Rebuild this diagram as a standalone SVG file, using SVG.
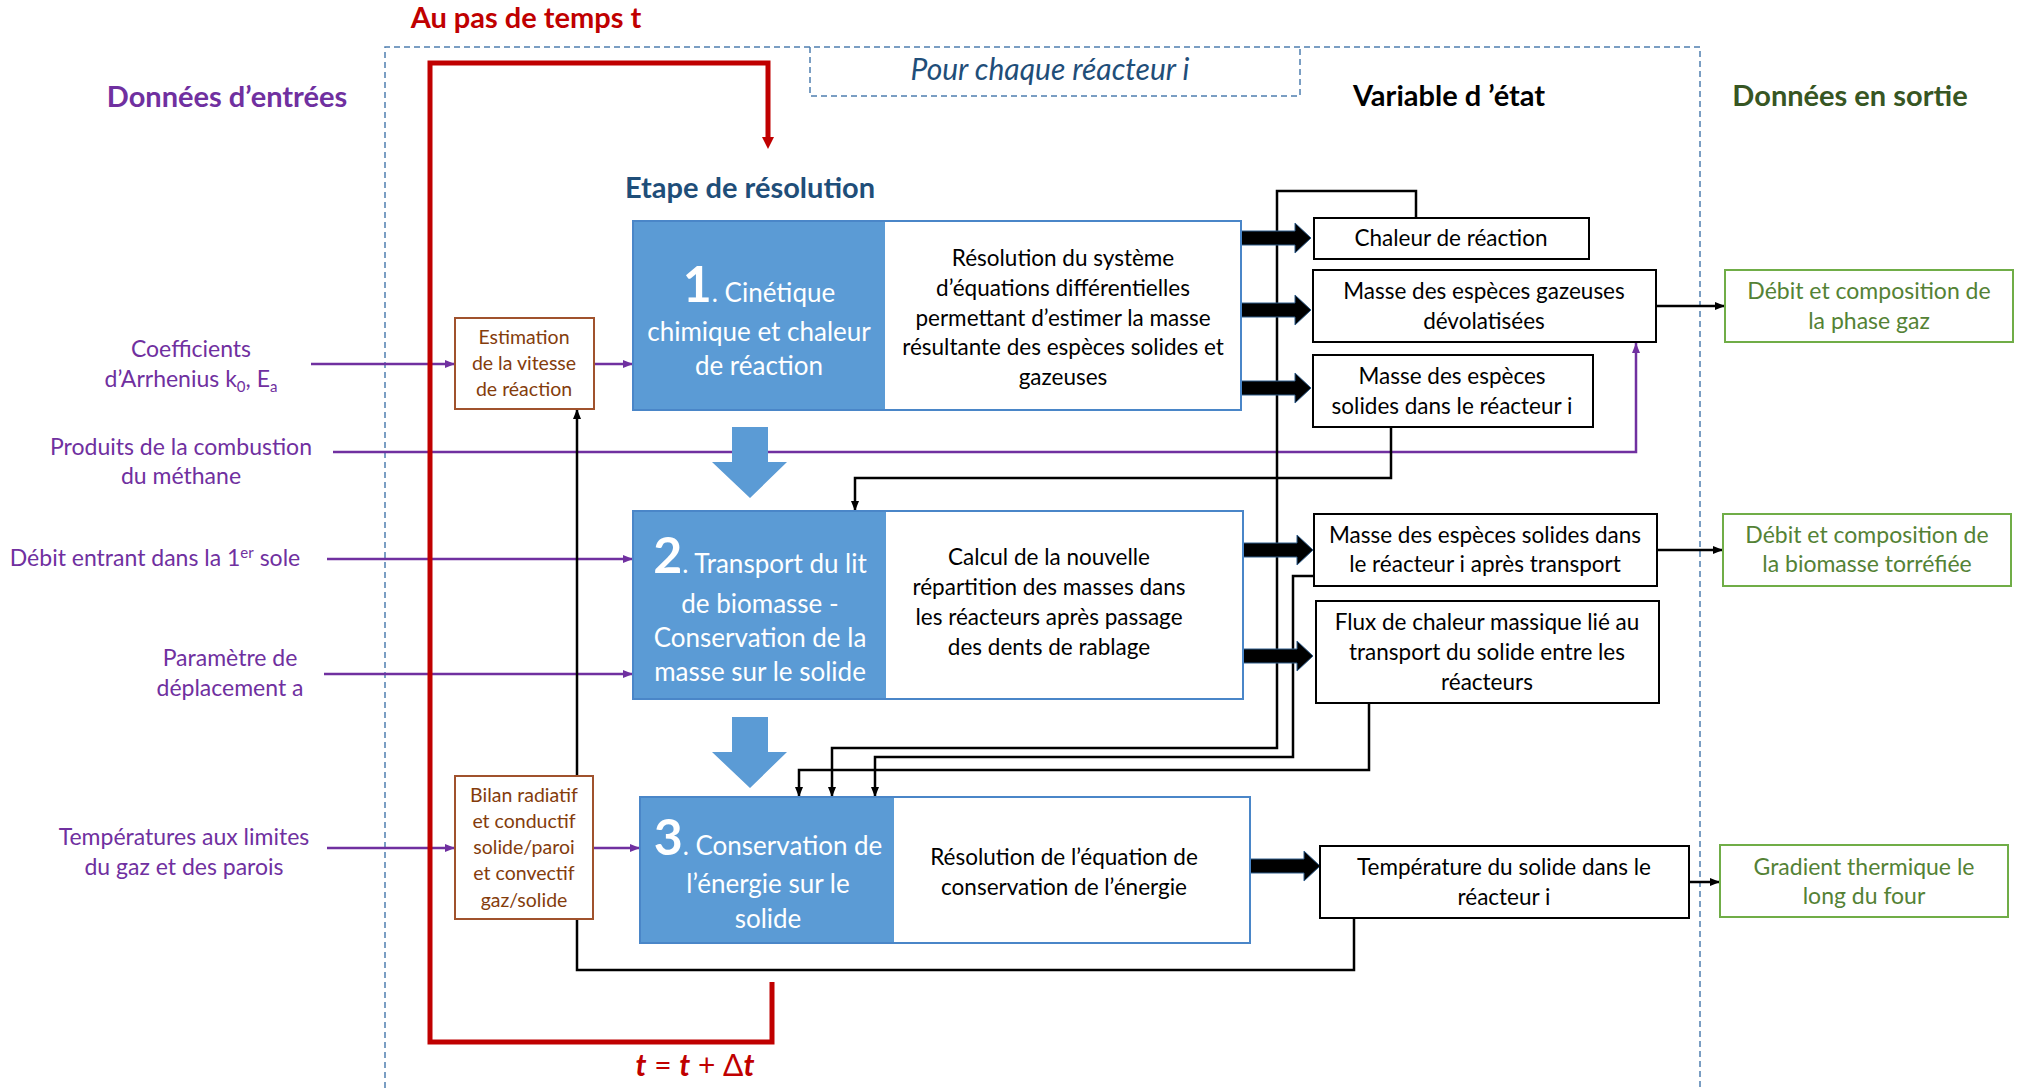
<svg xmlns="http://www.w3.org/2000/svg" width="2019" height="1088" viewBox="0 0 2019 1088">
<defs>
<style>
text { font-family: Lato, "Open Sans", "Liberation Sans", sans-serif; }
.lbl { font-size:23px; fill:#7030A0; text-anchor:middle; }
.st { font-size:22.5px; fill:#000; text-anchor:middle; }
.out { font-size:23px; fill:#548235; text-anchor:middle; }
.bl { font-size:26px; fill:#fff; text-anchor:middle; }
.big { font-size:50px; font-weight:bold; }
.br { font-size:19.5px; fill:#843C0C; text-anchor:middle; }
.hd { font-size:29px; font-weight:bold; text-anchor:middle; }
.sbox { fill:#fff; stroke:#000; stroke-width:2; }
.gbox { fill:#fff; stroke:#70AD47; stroke-width:2; }
.bbox { fill:#fff; stroke:#A0522D; stroke-width:2; }
.step { fill:#fff; stroke:#4A86C8; stroke-width:2; }
.stepl { fill:#5B9BD5; }
.ln { fill:none; stroke:#000; stroke-width:2.5; }
.pl { fill:none; stroke:#7030A0; stroke-width:2.5; }
.dash { fill:none; stroke:#4F7FB0; stroke-width:1.5; stroke-dasharray:6 4; }
.blk { fill:#000; stroke:#2E5C8A; stroke-width:1; }
.barr { fill:#5B9BD5; }
</style>
<marker id="ab" markerUnits="userSpaceOnUse" markerWidth="10" markerHeight="8" refX="10" refY="4" orient="auto">
<path d="M0,0 L10,4 L0,8 Z" fill="#000"/>
</marker>
<marker id="ap" markerUnits="userSpaceOnUse" markerWidth="10" markerHeight="8" refX="10" refY="4" orient="auto">
<path d="M0,0 L10,4 L0,8 Z" fill="#7030A0"/>
</marker>
<marker id="ar" markerUnits="userSpaceOnUse" markerWidth="12" markerHeight="12" refX="0" refY="6" orient="auto">
<path d="M0,0 L12,6 L0,12 Z" fill="#C00000"/>
</marker>
<path id="ba" class="blk" d="M0,-7 H54 V-15 L70,0 L54,15 V7 H0 Z"/>
</defs>

<g id="frames">
<path class="dash" d="M385,1088 V47 H1700 V1088"/>
<path class="dash" d="M810,47 V96 H1300 V47"/>
</g>

<g id="headers">
<text class="hd" x="526" y="28" fill="#C00000">Au pas de temps t</text>
<text class="hd" x="227" y="107" fill="#7030A0">Données d’entrées</text>
<text x="1050" y="80" font-size="30" font-style="italic" fill="#1F4E79" text-anchor="middle">Pour chaque réacteur i</text>
<text class="hd" x="1449" y="106" fill="#000">Variable d ’état</text>
<text class="hd" x="1850" y="106" fill="#375623">Données en sortie</text>
<text class="hd" x="750" y="198" fill="#1F4E79">Etape de résolution</text>
</g>

<g id="connectors">
<path class="pl" marker-end="url(#ap)" d="M311,364 H455"/>
<path class="pl" marker-end="url(#ap)" d="M594,364 H633"/>
<path class="pl" marker-end="url(#ap)" d="M333,452 H1636 V343"/>
<path class="pl" marker-end="url(#ap)" d="M327,559 H633"/>
<path class="pl" marker-end="url(#ap)" d="M324,674 H633"/>
<path class="pl" marker-end="url(#ap)" d="M327,848 H455"/>
<path class="pl" marker-end="url(#ap)" d="M593,848 H640"/>
<path class="ln" marker-end="url(#ab)" d="M1416,218 V191 H1277 V748 H832 V797"/>
<path class="ln" marker-end="url(#ab)" d="M1314,576 H1293 V757 H875 V797"/>
<path class="ln" marker-end="url(#ab)" d="M1369,703 V770 H799 V797"/>
<path class="ln" marker-end="url(#ab)" d="M1391,427 V478 H855 V511"/>
<path class="ln" marker-end="url(#ab)" d="M1354,918 V970 H577 V409"/>
<path class="ln" marker-end="url(#ab)" d="M1656,306 H1725"/>
<path class="ln" marker-end="url(#ab)" d="M1657,550 H1723"/>
<path class="ln" marker-end="url(#ab)" d="M1689,882 H1720"/>
<use href="#ba" x="1241" y="238"/>
<use href="#ba" x="1241" y="310"/>
<use href="#ba" x="1241" y="388"/>
<use href="#ba" x="1243" y="550"/>
<use href="#ba" x="1243" y="656"/>
<use href="#ba" x="1250" y="866"/>
<path class="barr" d="M732,427 H768 V462 H787 L750,498 L712,462 H732 Z"/>
<path class="barr" d="M732,717 H768 V752 H787 L750,788 L712,752 H732 Z"/>
<path fill="none" stroke="#C00000" stroke-width="5" marker-end="url(#ar)" d="M772,982 V1042 H430 V63 H768 V137"/>
</g>

<g id="inputs">
<text class="lbl" x="191" y="357">Coefficients</text>
<text class="lbl" x="191" y="387">d’Arrhenius k<tspan font-size="15" dy="5">0</tspan><tspan dy="-5">, E</tspan><tspan font-size="15" dy="5">a</tspan></text>
<text class="lbl" x="181" y="455">Produits de la combustion</text>
<text class="lbl" x="181" y="484">du méthane</text>
<text class="lbl" x="155" y="566">Débit entrant dans la 1<tspan font-size="15" dy="-8">er</tspan><tspan dy="8"> sole</tspan></text>
<text class="lbl" x="230" y="666">Paramètre de</text>
<text class="lbl" x="230" y="696">déplacement  a</text>
<text class="lbl" x="184" y="845">Températures aux limites</text>
<text class="lbl" x="184" y="875">du gaz et des parois</text>
</g>

<g id="estimation">
<rect class="bbox" x="455" y="318" width="139" height="91"/>
<text class="br" x="524" y="344">Estimation</text>
<text class="br" x="524" y="370">de la vitesse</text>
<text class="br" x="524" y="396">de réaction</text>
</g>

<g id="bilan">
<rect class="bbox" x="455" y="776" width="138" height="143"/>
<text class="br" x="524" y="802">Bilan radiatif</text>
<text class="br" x="524" y="828">et conductif</text>
<text class="br" x="524" y="854">solide/paroi</text>
<text class="br" x="524" y="880">et convectif</text>
<text class="br" x="524" y="907">gaz/solide</text>
</g>

<g id="step1">
<rect class="step" x="633" y="221" width="608" height="189"/>
<rect class="stepl" x="634" y="222" width="251" height="187"/>
<text class="bl" x="759" y="302"><tspan class="big">1</tspan>. Cinétique</text>
<text class="bl" x="759" y="341">chimique et chaleur</text>
<text class="bl" x="759" y="375">de réaction</text>
<text class="st" x="1063" y="266">Résolution du système</text>
<text class="st" x="1063" y="296">d’équations différentielles</text>
<text class="st" x="1063" y="326">permettant d’estimer la masse</text>
<text class="st" x="1063" y="355">résultante des espèces solides et</text>
<text class="st" x="1063" y="385">gazeuses</text>
</g>

<g id="step2">
<rect class="step" x="633" y="511" width="610" height="188"/>
<rect class="stepl" x="634" y="512" width="252" height="186"/>
<text class="bl" x="760" y="573"><tspan class="big">2</tspan>. Transport du lit</text>
<text class="bl" x="760" y="613">de biomasse -</text>
<text class="bl" x="760" y="647">Conservation de la</text>
<text class="bl" x="760" y="681">masse sur le solide</text>
<text class="st" x="1049" y="565">Calcul de la nouvelle</text>
<text class="st" x="1049" y="595">répartition des masses dans</text>
<text class="st" x="1049" y="625">les réacteurs après passage</text>
<text class="st" x="1049" y="655">des dents de rablage</text>
</g>

<g id="step3">
<rect class="step" x="640" y="797" width="610" height="146"/>
<rect class="stepl" x="641" y="798" width="253" height="144"/>
<text class="bl" x="768" y="855"><tspan class="big">3</tspan>. Conservation de</text>
<text class="bl" x="768" y="893">l’énergie sur le</text>
<text class="bl" x="768" y="928">solide</text>
<text class="st" x="1064" y="865">Résolution de l’équation de</text>
<text class="st" x="1064" y="895">conservation de l’énergie</text>
</g>

<g id="chaleur">
<rect class="sbox" x="1314" y="218" width="275" height="41"/>
<text class="st" x="1451" y="246">Chaleur de réaction</text>
</g>
<g id="gazeuses">
<rect class="sbox" x="1313" y="270" width="343" height="72"/>
<text class="st" x="1484" y="299">Masse des espèces gazeuses</text>
<text class="st" x="1484" y="329">dévolatisées</text>
</g>
<g id="solides">
<rect class="sbox" x="1313" y="355" width="280" height="72"/>
<text class="st" x="1452" y="384">Masse des espèces</text>
<text class="st" x="1452" y="414">solides dans le réacteur i</text>
</g>
<g id="apres-transport">
<rect class="sbox" x="1314" y="514" width="343" height="72"/>
<text class="st" x="1485" y="543">Masse des espèces solides dans</text>
<text class="st" x="1485" y="572">le réacteur i après transport</text>
</g>
<g id="flux">
<rect class="sbox" x="1316" y="601" width="343" height="102"/>
<text class="st" x="1487" y="630">Flux de chaleur massique lié au</text>
<text class="st" x="1487" y="660">transport du solide entre les</text>
<text class="st" x="1487" y="690">réacteurs</text>
</g>
<g id="temperature">
<rect class="sbox" x="1320" y="846" width="369" height="72"/>
<text class="st" x="1504" y="875">Température du solide dans le</text>
<text class="st" x="1504" y="905">réacteur i</text>
</g>

<g id="out-gaz">
<rect class="gbox" x="1725" y="270" width="288" height="72"/>
<text class="out" x="1869" y="299">Débit et composition de</text>
<text class="out" x="1869" y="329">la phase gaz</text>
</g>
<g id="out-biomasse">
<rect class="gbox" x="1723" y="514" width="288" height="72"/>
<text class="out" x="1867" y="543">Débit  et composition de</text>
<text class="out" x="1867" y="572">la biomasse torréfiée</text>
</g>
<g id="out-gradient">
<rect class="gbox" x="1720" y="845" width="288" height="72"/>
<text class="out" x="1864" y="875">Gradient thermique le</text>
<text class="out" x="1864" y="904">long du four</text>
</g>

<text x="695" y="1076" font-family="Liberation Serif, serif" font-size="30" fill="#C00000" text-anchor="middle"><tspan font-style="italic" font-weight="bold">t</tspan> = <tspan font-style="italic" font-weight="bold">t</tspan> + Δ<tspan font-style="italic" font-weight="bold">t</tspan></text>
</svg>
